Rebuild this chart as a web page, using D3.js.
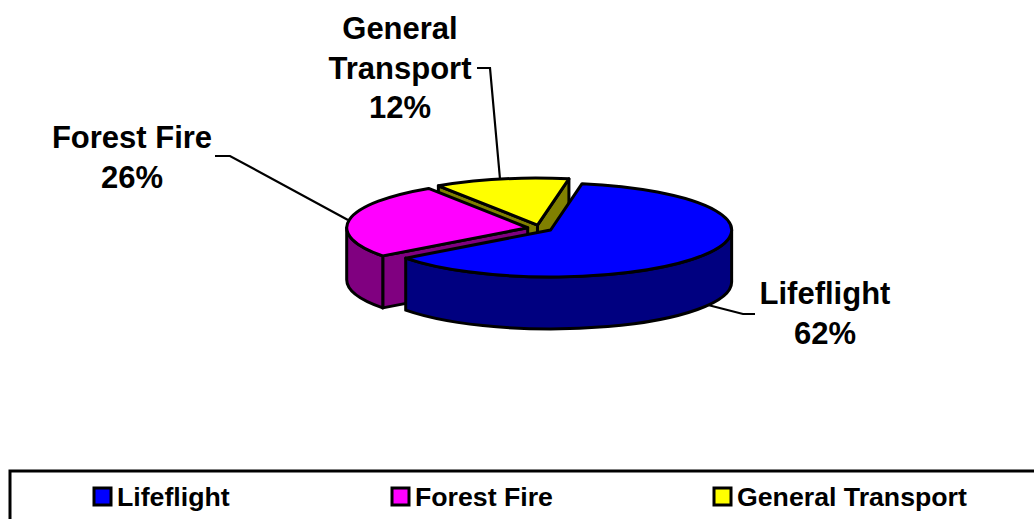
<!DOCTYPE html>
<html><head><meta charset="utf-8">
<script src="https://cdn.jsdelivr.net/npm/d3@7/dist/d3.min.js"></script>
<style>html,body{margin:0;padding:0;background:#fff}svg{display:block}text{font-family:"Liberation Sans",Arial,sans-serif;font-weight:700;fill:#000}</style>
</head><body><svg width="1034" height="519"></svg>
<script>
const categories = ["Lifeflight", "Forest Fire", "General Transport"];
const values = [62, 26, 12];
const topColors = ["#0000ff", "#ff00ff", "#ffff00"];
const sideColors = ["#000080", "#800080", "#808000"];
const labelLines = [["Lifeflight", "62%"], ["Forest Fire", "26%"], ["General", "Transport", "12%"]];

const W = 1034, H = 519, cx = 540, cy = 228.3, rx = 181, ry = 47, depth = 52, explode = 0.069;
const svg = d3.select("svg");
const deg = Math.PI / 180;
const arcs = d3.pie().sort(null).startAngle(10 * deg).endAngle(370 * deg)(values);
const scaleX = d3.scaleLinear().domain([-1, 1]).range([-rx, rx]);
const scaleY = d3.scaleLinear().domain([-1, 1]).range([-ry, ry]);
const arcGen = d3.arc().innerRadius(0).outerRadius(rx);
const px = a => scaleX(Math.sin(a));
const py = a => scaleY(-Math.cos(a));

function sliceGroup(d, i) {
  const mid = (d.startAngle + d.endAngle) / 2;
  const ox = cx + explode * px(mid), oy = cy + explode * py(mid);
  const g = svg.append("g").attr("transform", `translate(${ox},${oy})`);
  const style = s => s.attr("stroke", "#000").attr("stroke-width", 3).attr("stroke-linejoin", "round");
  const wallPath = (a0, a1) => {
    const x0 = px(a0), y0 = py(a0), x1 = px(a1), y1 = py(a1);
    return `M${x0},${y0}A${rx},${ry} 0 0 1 ${x1},${y1}L${x1},${y1 + depth}A${rx},${ry} 0 0 0 ${x0},${y0 + depth}Z`;
  };
  const planeWall = a => `M0,0L${px(a)},${py(a)}L${px(a)},${py(a) + depth}L0,${depth}Z`;
  // Cut faces that look towards the viewer
  if (Math.sin(d.startAngle) < 0) style(g.append("path").attr("d", planeWall(d.startAngle)).attr("fill", sideColors[i]));
  if (Math.sin(d.endAngle) > 0) style(g.append("path").attr("d", planeWall(d.endAngle)).attr("fill", sideColors[i]));
  // Outer rim where it lies on the front half of the ellipse
  const a0 = Math.max(d.startAngle, Math.PI / 2), a1 = Math.min(d.endAngle, 1.5 * Math.PI);
  if (a1 > a0) style(g.append("path").attr("d", wallPath(a0, a1)).attr("fill", sideColors[i]));
  style(g.append("path").attr("d", arcGen(d))
    .attr("transform", `scale(1,${ry / rx})`).attr("vector-effect", "non-scaling-stroke")
    .attr("fill", topColors[i]));
}
// Painter's order: furthest slice first
[2, 1, 0].forEach(i => sliceGroup(arcs[i], i));

// Leader lines
const leaders = [
  [[708, 305], [743, 314], [755, 314]],
  [[348, 220], [230, 156], [215, 156]],
  [[500, 179], [490, 68], [477, 68]]
];
const line = d3.line();
leaders.forEach(l => svg.append("path").attr("d", line(l)).attr("fill", "none").attr("stroke", "#000").attr("stroke-width", 2.2));

// Labels
const labelPos = [[825, 304], [132, 148], [400, 39]];
const labelSize = 31, lineGap = 39.5;
labelLines.forEach((ls, i) => {
  ls.forEach((t, j) => svg.append("text").attr("x", labelPos[i][0]).attr("y", labelPos[i][1] + j * lineGap)
    .attr("text-anchor", "middle").attr("font-size", labelSize).text(t));
});

// Legend
svg.append("rect").attr("x", 10).attr("y", 471).attr("width", 1040).attr("height", 60)
  .attr("fill", "none").attr("stroke", "#000").attr("stroke-width", 3);
const legendX = d3.scaleOrdinal().domain(categories).range([93, 391, 713]);
categories.forEach((c, i) => {
  const x = legendX(c);
  svg.append("rect").attr("x", x + 1).attr("y", 488).attr("width", 17).attr("height", 17)
    .attr("fill", topColors[i]).attr("stroke", "#000").attr("stroke-width", 3);
  svg.append("text").attr("x", x + 24).attr("y", 506).attr("font-size", 26.7).text(c);
});
</script></body></html>
